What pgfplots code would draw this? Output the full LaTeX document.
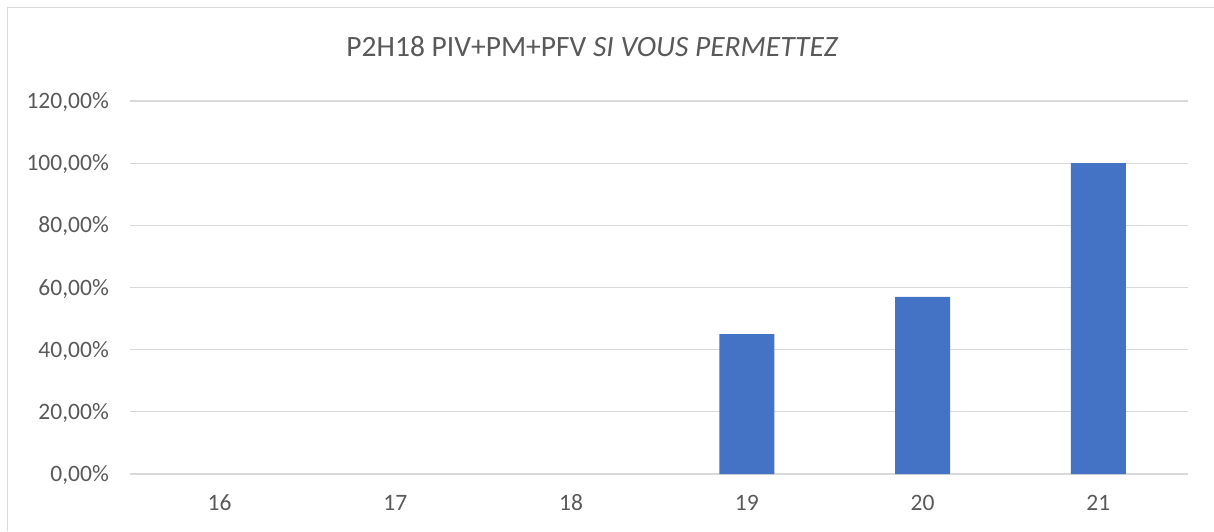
\documentclass[border=0pt]{standalone}
\usepackage{fontspec}
\setmainfont{Carlito}
\usepackage{pgfplots}
\pgfplotsset{compat=1.18}
\definecolor{barblue}{HTML}{4472C4}
\definecolor{gridgray}{HTML}{D9D9D9}
\definecolor{txtgray}{HTML}{595959}
\begin{document}
\begin{tikzpicture}[x=1pt,y=1pt]
\useasboundingbox (0,0) rectangle (1214,531);
\draw[gridgray, line width=1.6pt] (7.5,0) -- (7.5,523.5) -- (1214,523.5);
\begin{axis}[
  at={(130pt,57pt)}, anchor=south west,
  scale only axis, width=1058pt, height=373pt,
  xmin=15.49, xmax=21.51, ymin=0, ymax=120,
  axis line style={draw=none},
  major tick length=0pt,
  ymajorgrids, grid style={gridgray, line width=1.3pt},
  ytick={0,20,40,60,80,100,120},
  yticklabels={{0,00\%},{20,00\%},{40,00\%},{60,00\%},{80,00\%},{100,00\%},{120,00\%}},
  xtick={16,17,18,19,20,21},
  xticklabels={16,17,18,19,20,21},
  yticklabel style={anchor=east, inner sep=0pt, text height=15pt, text depth=0pt, xshift=-21pt, font=\fontsize{23.5}{28}\selectfont, text=txtgray},
  xticklabel style={anchor=north, inner sep=0pt, text height=15pt, text depth=0pt, yshift=-21pt, font=\fontsize{23.5}{28}\selectfont, text=txtgray},
  clip=false,
]
\addplot[ybar, bar width=55pt, bar shift=0pt, fill=barblue, draw=none,
  y filter/.expression={y==0 ? nan : y}, unbounded coords=discard] coordinates {
  (16,0) (17,0) (18,0) (19,45) (20,57) (21,100)
};
\end{axis}
\node[anchor=base, inner sep=0pt, text=txtgray, font=\fontsize{29.5}{35}\selectfont] at (592.5,474.3) {P2H18 PIV+PM+PFV \textit{SI VOUS PERMETTEZ}};
\end{tikzpicture}
\end{document}
